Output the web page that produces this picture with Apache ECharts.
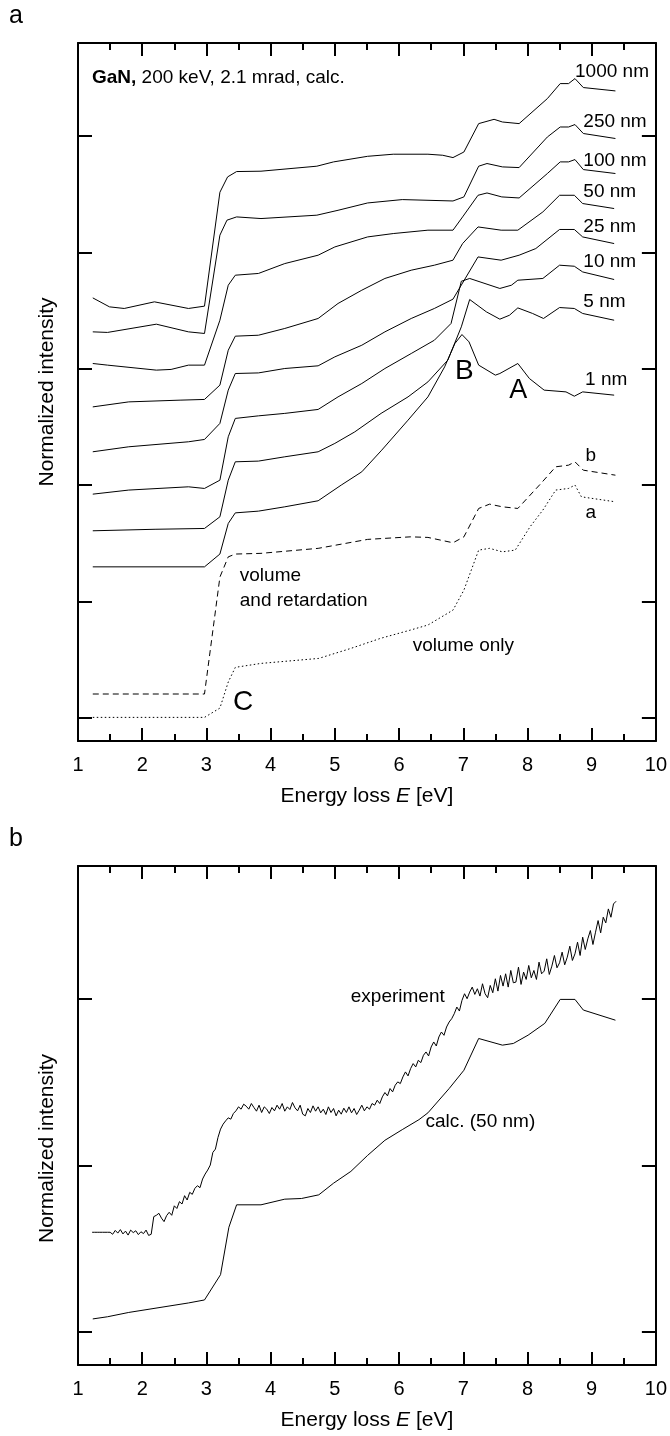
<!DOCTYPE html>
<html><head><meta charset="utf-8">
<script src="https://cdn.jsdelivr.net/npm/echarts@6/dist/echarts.min.js"></script>
<style>html,body{margin:0;padding:0;background:#fff}#c{width:670px;height:1436px}</style>
</head><body><div id="c"></div>
<script>
// ---------- DATA (x = energy loss E [eV], y = normalized intensity, offset curves) ----------
const xTicks = [1,2,3,4,5,6,7,8,9,10];
const yTicksA = [0,1,2,3,4,5];
const yTicksB = [0,1,2];

const nm1000 = [[1.23,3.609],[1.49,3.532],[1.72,3.518],[2.19,3.575],[2.72,3.518],[2.97,3.538],[3.21,4.517],[3.33,4.649],[3.47,4.695],[3.85,4.698],[4.72,4.741],[4.98,4.778],[5.51,4.826],[5.91,4.844],[6.45,4.844],[6.68,4.835],[6.84,4.815],[7.01,4.863],[7.24,5.107],[7.48,5.144],[7.61,5.121],[7.87,5.107],[8.31,5.322],[8.51,5.451],[8.64,5.451],[8.74,5.494],[8.87,5.417],[9.37,5.388]];
const nm250 = [[1.23,3.317],[1.46,3.312],[2.22,3.383],[2.72,3.317],[2.97,3.303],[3.21,4.148],[3.32,4.277],[3.47,4.305],[3.85,4.291],[4.72,4.320],[5.05,4.362],[5.51,4.425],[6.05,4.454],[6.84,4.442],[7.01,4.477],[7.24,4.741],[7.37,4.764],[7.61,4.735],[7.87,4.729],[8.31,4.992],[8.51,5.078],[8.64,5.078],[8.74,5.099],[8.87,5.022],[9.37,4.979]];
const nm100 = [[1.23,3.045],[1.46,3.031],[2.22,2.988],[2.45,2.994],[2.72,3.031],[2.97,3.031],[3.21,3.417],[3.34,3.718],[3.45,3.804],[3.81,3.819],[4.22,3.904],[4.74,3.976],[5.0,4.047],[5.51,4.133],[5.91,4.162],[6.45,4.191],[6.84,4.191],[6.99,4.305],[7.23,4.491],[7.37,4.511],[7.6,4.477],[7.87,4.468],[8.31,4.678],[8.51,4.778],[8.64,4.778],[8.74,4.798],[8.87,4.712],[9.37,4.678]];
const nm50 = [[1.23,2.672],[1.79,2.715],[2.59,2.730],[2.97,2.736],[3.21,2.859],[3.34,3.159],[3.45,3.280],[3.81,3.288],[4.22,3.346],[4.74,3.432],[5.05,3.561],[5.42,3.675],[5.78,3.776],[6.19,3.847],[6.55,3.890],[6.84,3.933],[6.99,4.076],[7.23,4.219],[7.59,4.191],[7.85,4.191],[8.24,4.348],[8.5,4.491],[8.73,4.491],[8.86,4.420],[9.35,4.377]];
const nm25 = [[1.23,2.286],[1.79,2.329],[2.72,2.372],[2.97,2.392],[3.21,2.530],[3.34,2.816],[3.45,2.959],[3.81,2.964],[4.22,3.002],[4.74,3.025],[5.0,3.102],[5.42,3.202],[5.78,3.317],[6.19,3.432],[6.55,3.518],[6.84,3.598],[7.23,3.961],[7.59,3.933],[7.87,3.976],[8.13,4.033],[8.5,4.197],[8.73,4.197],[8.86,4.133],[9.35,4.076]];
const nm10 = [[1.23,1.922],[1.79,1.957],[2.72,1.985],[2.97,1.971],[3.21,2.042],[3.34,2.415],[3.45,2.573],[3.81,2.595],[4.22,2.616],[4.74,2.650],[5.05,2.758],[5.42,2.873],[5.78,3.002],[6.19,3.131],[6.55,3.245],[6.81,3.389],[6.97,3.752],[7.1,3.776],[7.57,3.690],[7.75,3.718],[7.85,3.761],[8.24,3.776],[8.5,3.890],[8.73,3.881],[8.86,3.832],[9.35,3.767]];
const nm5 = [[1.23,1.607],[2.2,1.620],[2.97,1.627],[3.21,1.727],[3.34,2.042],[3.45,2.200],[3.81,2.206],[4.22,2.243],[4.74,2.286],[5.0,2.358],[5.31,2.457],[5.72,2.616],[6.14,2.758],[6.45,2.887],[6.76,3.074],[6.97,3.360],[7.1,3.595],[7.36,3.489],[7.57,3.426],[7.72,3.460],[7.85,3.523],[8.08,3.475],[8.25,3.432],[8.5,3.526],[8.73,3.518],[8.86,3.475],[9.35,3.417]];
const nm1 = [[1.23,1.297],[2.97,1.297],[3.21,1.407],[3.34,1.670],[3.45,1.761],[3.81,1.776],[4.22,1.813],[4.74,1.865],[5.1,2.000],[5.42,2.114],[5.73,2.300],[6.14,2.558],[6.45,2.758],[6.71,3.016],[6.87,3.217],[6.98,3.294],[7.09,3.231],[7.24,3.031],[7.5,2.945],[7.57,2.959],[7.85,3.045],[8.03,2.916],[8.26,2.816],[8.6,2.801],[8.73,2.764],[8.86,2.801],[9.35,2.773]];
const volRetard = [[1.23,0.204],[2.97,0.204],[3.21,1.209],[3.34,1.383],[3.45,1.407],[3.85,1.413],[4.74,1.456],[5.51,1.533],[6.18,1.555],[6.45,1.550],[6.84,1.504],[7.01,1.555],[7.24,1.799],[7.41,1.836],[7.61,1.813],[7.85,1.799],[8.21,2.014],[8.44,2.157],[8.64,2.171],[8.74,2.200],[8.87,2.128],[9.37,2.085]];
const volOnly = [[1.23,0.003],[2.97,0.003],[3.21,0.083],[3.34,0.307],[3.45,0.433],[3.85,0.467],[4.75,0.510],[5.25,0.596],[5.71,0.682],[6.18,0.754],[6.45,0.797],[6.84,0.925],[7.01,1.097],[7.24,1.441],[7.41,1.456],[7.61,1.426],[7.81,1.441],[8.04,1.641],[8.24,1.785],[8.44,1.957],[8.64,1.971],[8.74,2.000],[8.84,1.899],[9.37,1.856]];

const calc50 = [[1.23,0.077],[1.46,0.090],[1.79,0.116],[2.72,0.173],[2.97,0.191],[3.22,0.343],[3.35,0.628],[3.47,0.763],[3.85,0.763],[4.22,0.797],[4.48,0.801],[4.75,0.823],[4.98,0.893],[5.25,0.964],[5.51,1.060],[5.78,1.151],[6.05,1.215],[6.31,1.275],[6.45,1.316],[6.78,1.462],[7.01,1.572],[7.24,1.763],[7.61,1.723],[7.78,1.733],[8.01,1.783],[8.27,1.854],[8.51,1.998],[8.74,1.998],[8.87,1.934],[9.37,1.873]];
// experiment: spectrometer channels start at 1.22 eV, 0.04 eV apart
const expStart = 1.22, expStep = 0.04;
const experiment = [
0.598,0.598,0.598,0.598,0.598,0.598,0.598,0.598,0.586,0.609,
0.593,0.614,0.588,0.605,0.581,0.611,0.596,0.607,0.584,0.601,
0.590,0.611,0.579,0.586,0.692,0.700,0.712,0.683,0.662,0.698,
0.718,0.700,0.757,0.741,0.782,0.768,0.818,0.792,0.838,0.826,
0.862,0.878,0.866,0.918,0.948,0.972,1.002,1.078,1.098,1.168,
1.218,1.248,1.268,1.286,1.278,1.312,1.328,1.352,1.338,1.368,
1.356,1.338,1.372,1.348,1.326,1.362,1.318,1.352,1.338,1.312,
1.348,1.328,1.362,1.338,1.372,1.326,1.352,1.336,1.378,1.346,
1.328,1.362,1.308,1.298,1.342,1.318,1.358,1.326,1.352,1.316,
1.338,1.306,1.352,1.318,1.342,1.298,1.332,1.308,1.344,1.318,
1.352,1.316,1.342,1.306,1.332,1.362,1.328,1.352,1.338,1.372,
1.362,1.392,1.372,1.412,1.438,1.418,1.462,1.442,1.482,1.502,
1.492,1.532,1.562,1.538,1.582,1.612,1.592,1.632,1.618,1.662,
1.682,1.658,1.712,1.742,1.718,1.772,1.802,1.782,1.832,1.862,
1.882,1.912,1.952,1.928,1.992,2.032,2.002,2.042,2.072,2.028,
2.062,2.018,2.092,2.032,2.008,2.082,2.038,2.122,2.048,2.142,
2.078,2.152,2.072,2.172,2.098,2.102,2.192,2.088,2.162,2.118,
2.202,2.128,2.172,2.118,2.222,2.152,2.168,2.242,2.148,2.198,
2.262,2.188,2.218,2.282,2.206,2.252,2.318,2.232,2.272,2.342,
2.262,2.372,2.298,2.362,2.412,2.328,2.402,2.472,2.398,2.492,
2.458,2.542,2.492,2.572,2.588];

// ---------- STYLE / LAYOUT ----------
const F = "'Liberation Sans', Arial, Helvetica, sans-serif";
const K = '#000';
const expData = experiment.map((v, i) => [+(expStart + i * expStep).toFixed(2), v]);

function xAx(grid, pos, withLabels) {
  return {
    gridIndex: grid, type: 'value', position: pos, min: 1, max: 10, interval: 1,
    axisLine: { show: true, onZero: false, lineStyle: { color: K, width: 2 } },
    axisTick: { show: true, inside: true, length: 13, lineStyle: { color: K, width: 2 } },
    minorTick: { show: true, splitNumber: 2, length: 7, lineStyle: { color: K, width: 2 } },
    splitLine: { show: false }, minorSplitLine: { show: false },
    axisLabel: { show: withLabels, fontSize: 20, color: K, fontFamily: F, margin: 14, showMinLabel: true, showMaxLabel: true },
    name: withLabels ? '{n|Energy loss }{i|E}{n| [eV]}' : '',
    nameLocation: 'middle', nameGap: 45,
    nameTextStyle: { rich: { n: { fontSize: 21, fontFamily: F, color: K }, i: { fontSize: 21, fontFamily: F, color: K, fontStyle: 'italic' } } }
  };
}
function yAx(grid, pos, max, ticks, withName, shift) {
  return {
    gridIndex: grid, type: 'value', position: pos, min: -0.2, max: max,
    axisLine: { show: true, onZero: false, lineStyle: { color: K, width: 2 } },
    axisTick: { show: true, inside: true, length: 14, customValues: ticks, lineStyle: { color: K, width: 2 } },
    axisLabel: { show: false }, splitLine: { show: false },
    name: withName ? 'Normalized intensity' : '', nameLocation: 'middle', nameGap: 20, nameRotate: 90,
    nameTextStyle: { fontSize: 21, fontFamily: F, color: K, padding: [0, shift, 0, 0] }
  };
}
function line(name, data, grid, type) {
  return {
    name, type: 'line', data, xAxisIndex: grid * 2, yAxisIndex: grid * 2,
    showSymbol: false, symbol: 'none', silent: true, animation: false,
    lineStyle: { color: K, width: 1, type: type || 'solid' }
  };
}

const option = {
  animation: false,
  backgroundColor: '#fff',
  grid: [
    { left: 78, top: 43, width: 579, height: 698 },
    { left: 78, top: 866, width: 579, height: 499 }
  ],
  xAxis: [xAx(0, 'bottom', true), xAx(0, 'top', false), xAx(1, 'bottom', true), xAx(1, 'top', false)],
  yAxis: [yAx(0, 'left', 5.8, yTicksA, true, 0), yAx(0, 'right', 5.8, yTicksA, false, 0),
          yAx(1, 'left', 2.8, yTicksB, true, 66), yAx(1, 'right', 2.8, yTicksB, false, 0)],
  series: [
    line('1000 nm', nm1000, 0), line('250 nm', nm250, 0), line('100 nm', nm100, 0),
    line('50 nm', nm50, 0), line('25 nm', nm25, 0), line('10 nm', nm10, 0),
    line('5 nm', nm5, 0), line('1 nm', nm1, 0),
    line('volume and retardation', volRetard, 0, [6, 4]),
    line('volume only', volOnly, 0, [1.5, 2.5]),
    line('experiment', expData, 1), line('calc. (50 nm)', calc50, 1)
  ]
};

const chart = echarts.init(document.getElementById('c'), null, { renderer: 'canvas', width: 670, height: 1436 });
chart.setOption(option);

// ---------- ANNOTATIONS (anchored in data coordinates) ----------
const notes = [
  { g: 0, E: 1.218, v: 5.502, t: '{b|GaN,}{n| 200 keV, 2.1 mrad, calc.}', s: 19, a: 'left', rich: true },
  { g: 0, E: 8.741, v: 5.555, t: '1000 nm', s: 19, a: 'left' },
  { g: 0, E: 8.870, v: 5.124, t: '250 nm', s: 19, a: 'left' },
  { g: 0, E: 8.870, v: 4.789, t: '100 nm', s: 19, a: 'left' },
  { g: 0, E: 8.870, v: 4.520, t: '50 nm', s: 19, a: 'left' },
  { g: 0, E: 8.870, v: 4.219, t: '25 nm', s: 19, a: 'left' },
  { g: 0, E: 8.870, v: 3.918, t: '10 nm', s: 19, a: 'left' },
  { g: 0, E: 8.870, v: 3.575, t: '5 nm', s: 19, a: 'left' },
  { g: 0, E: 8.897, v: 2.901, t: '1 nm', s: 19, a: 'left' },
  { g: 0, E: 7.016, v: 2.981, t: 'B', s: 28, a: 'center' },
  { g: 0, E: 7.857, v: 2.809, t: 'A', s: 27, a: 'center' },
  { g: 0, E: 3.570, v: 0.137, t: 'C', s: 28, a: 'center' },
  { g: 0, E: 8.987, v: 2.253, t: 'b', s: 19, a: 'center' },
  { g: 0, E: 8.987, v: 1.758, t: 'a', s: 19, a: 'center' },
  { g: 0, E: 3.520, v: 1.223, t: 'volume', s: 19, a: 'left' },
  { g: 0, E: 3.520, v: 1.008, t: 'and retardation', s: 19, a: 'left' },
  { g: 0, E: 6.212, v: 0.621, t: 'volume only', s: 19, a: 'left' },
  { g: 1, E: 5.248, v: 2.016, t: 'experiment', s: 19, a: 'left' },
  { g: 1, E: 6.411, v: 1.260, t: 'calc. (50 nm)', s: 19, a: 'left' }
];
const graphics = notes.map(n => {
  const p = chart.convertToPixel({ xAxisIndex: n.g * 2, yAxisIndex: n.g * 2 }, [n.E, n.v]);
  const style = {
    text: n.t, x: p[0], y: p[1], fill: K, fontSize: n.s, fontFamily: F,
    align: n.a, textAlign: n.a, verticalAlign: 'middle', textVerticalAlign: 'middle'
  };
  if (n.rich) style.rich = {
    b: { fontSize: n.s, fontFamily: F, fontWeight: 'bold', fill: K },
    n: { fontSize: n.s, fontFamily: F, fill: K }
  };
  return { type: 'text', silent: true, style };
});
// panel letters
graphics.push({ type: 'text', silent: true, style: { text: 'a', x: 9, y: 16, fill: K, fontSize: 25, fontFamily: F, align: 'left', textAlign: 'left', verticalAlign: 'middle', textVerticalAlign: 'middle' } });
graphics.push({ type: 'text', silent: true, style: { text: 'b', x: 9, y: 839, fill: K, fontSize: 25, fontFamily: F, align: 'left', textAlign: 'left', verticalAlign: 'middle', textVerticalAlign: 'middle' } });
chart.setOption({ graphic: graphics });
</script></body></html>
